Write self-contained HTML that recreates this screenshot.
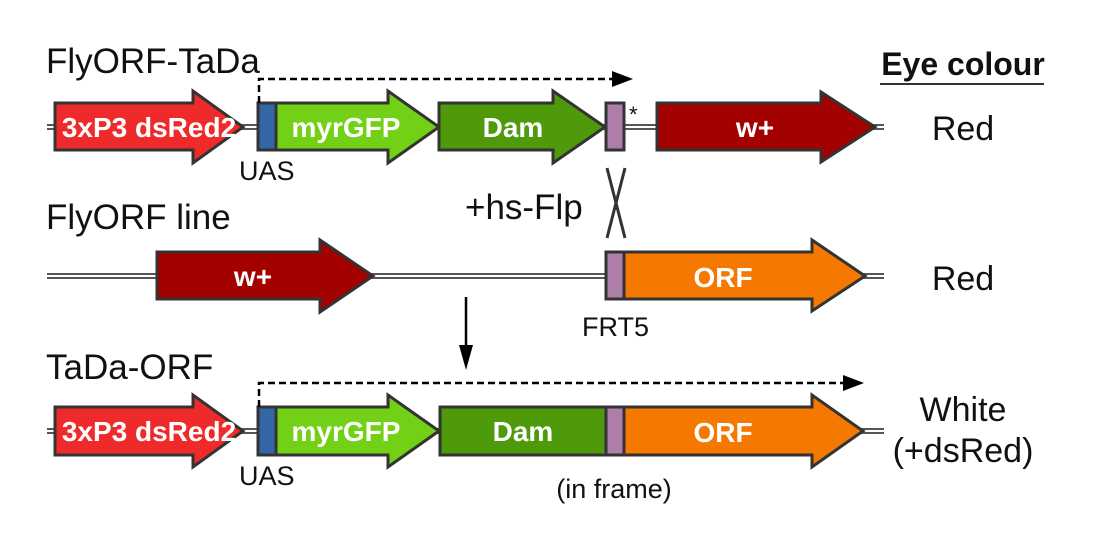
<!DOCTYPE html>
<html><head><meta charset="utf-8"><style>
html,body{margin:0;padding:0;background:#fff}
svg{display:block}
text{font-family:"Liberation Sans",sans-serif}
.w{fill:#fff;font-weight:bold;font-size:28px;text-anchor:middle}
.b{fill:#111;font-size:27px}
.s{fill:#111;font-size:35px}
.r{fill:#111;font-size:34px;text-anchor:middle}
</style></head><body>
<svg width="1096" height="550" viewBox="0 0 1096 550" xmlns="http://www.w3.org/2000/svg">
<g stroke-linecap="butt">
<g stroke="#555" stroke-width="6"><line x1="47" y1="127" x2="884" y2="127"/><line x1="47" y1="276" x2="884" y2="276"/><line x1="47" y1="431" x2="884" y2="431"/></g>
<g stroke="#fff" stroke-width="2"><line x1="47" y1="127" x2="884" y2="127"/><line x1="47" y1="276" x2="884" y2="276"/><line x1="47" y1="431" x2="884" y2="431"/></g>
</g>
<g stroke="#333" stroke-width="3" stroke-linejoin="miter">
<path d="M55,103 H193 V91 L243,127 L193,163 V150 H55Z" fill="#ee2a2a"/>
<path d="M276,103 H388 V91 L439,127 L388,163 V150 H276Z" fill="#72d016"/>
<rect x="258" y="103" width="18" height="47" fill="#3366a6"/>
<path d="M439,103 H553 V91 L605,127 L553,163 V150 H439Z" fill="#4e9a0a"/>
<rect x="606" y="103" width="18" height="47" fill="#ad7fa8"/>
<path d="M657,103 H821 V92 L875,127 L821,162 V150 H657Z" fill="#a30000"/>
<path d="M157,252 H320 V240 L373,276 L320,312 V299 H157Z" fill="#a30000"/>
<path d="M624,252 H812 V240 L865,276 L812,311 V299 H624Z" fill="#f57900"/>
<rect x="606" y="252" width="18" height="47" fill="#ad7fa8"/>
<path d="M55,407 H193 V395 L243,431 L193,467 V455 H55Z" fill="#ee2a2a"/>
<path d="M276,407 H388 V395 L439,431 L388,467 V455 H276Z" fill="#72d016"/>
<rect x="258" y="407" width="18" height="48" fill="#3366a6"/>
<rect x="440" y="407" width="166" height="48" fill="#4e9a0a"/>
<path d="M624,407 H812 V395 L863,431 L812,467 V455 H624Z" fill="#f57900"/>
<rect x="606" y="407" width="18" height="48" fill="#ad7fa8"/>
</g>
<g stroke="#333" stroke-width="3"><line x1="607" y1="168" x2="625" y2="238"/><line x1="625" y1="168" x2="607" y2="238"/></g>
<g fill="none" stroke="#000" stroke-width="2.5" stroke-dasharray="7,4">
<path d="M259,103 V79 H614"/>
<path d="M259,407 V383 H845"/>
</g>
<path d="M612,71 L633,79 L612,87Z" fill="#000"/>
<path d="M843,375 L864,383 L843,391Z" fill="#000"/>
<line x1="466" y1="297" x2="466" y2="355" stroke="#000" stroke-width="2.5"/>
<path d="M459,345 L466,370 L473,345Z" fill="#000"/>
<text class="w" x="149" y="137">3xP3 dsRed2</text>
<text class="w" x="346" y="137">myrGFP</text>
<text class="w" x="513" y="137">Dam</text>
<text class="w" x="755" y="137">w+</text>
<text class="w" x="253" y="286">w+</text>
<text class="w" x="723" y="287">ORF</text>
<text class="w" x="149" y="441">3xP3 dsRed2</text>
<text class="w" x="346" y="441">myrGFP</text>
<text class="w" x="523" y="441">Dam</text>
<text class="w" x="723" y="442">ORF</text>
<text class="b" x="629" y="122" style="font-size:22px">*</text>
<text class="s" x="46" y="73">FlyORF-TaDa</text>
<text class="s" x="46" y="229">FlyORF line</text>
<text class="s" x="46" y="379">TaDa-ORF</text>
<text class="s" x="465" y="219">+hs-Flp</text>
<text class="b" x="239" y="180">UAS</text>
<text class="b" x="239" y="485">UAS</text>
<text class="b" x="582" y="336">FRT5</text>
<text class="b" x="614" y="498" text-anchor="middle" style="font-size:27px">(in frame)</text>
<text x="963" y="75" text-anchor="middle" style="font-size:32px;font-weight:bold;fill:#111">Eye colour</text>
<line x1="880" y1="84" x2="1044" y2="84" stroke="#333" stroke-width="2"/>
<text class="r" x="963" y="140">Red</text>
<text class="r" x="963" y="290">Red</text>
<text class="r" x="963" y="421">White</text>
<text class="r" x="963" y="462">(+dsRed)</text>
</svg>
</body></html>
